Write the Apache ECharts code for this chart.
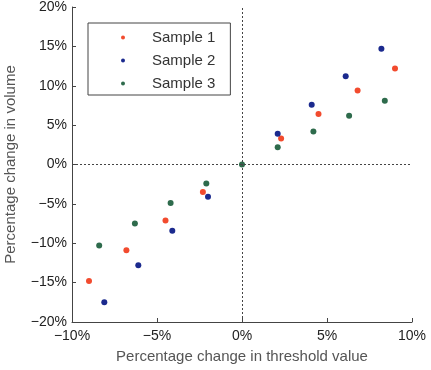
<!DOCTYPE html>
<html>
<head>
<meta charset="utf-8">
<script src="https://cdn.jsdelivr.net/npm/echarts@6/dist/echarts.min.js"></script>
<style>
  html, body { margin: 0; padding: 0; background: #fff; }
  #chart { width: 431px; height: 370px; }
</style>
</head>
<body>
<div id="chart"></div>
<script>
// values, in percent: [threshold change, volume change]
const sample1 = [[-9.0, -14.8], [-6.8, -10.9], [-4.5, -7.1], [-2.3, -3.5], [2.3, 3.3], [4.5, 6.4], [6.8, 9.4], [9.0, 12.2]]
const sample2 = [[-8.1, -17.5], [-6.1, -12.8], [-4.1, -8.4], [-2.0, -4.1], [2.1, 3.9], [4.1, 7.6], [6.1, 11.2], [8.2, 14.7]]
const sample3 = [[-8.4, -10.3], [-6.3, -7.5], [-4.2, -4.9], [-2.1, -2.4], [0, 0], [2.1, 2.2], [4.2, 4.2], [6.3, 6.2], [8.4, 8.1]]
const seriesNames = ['Sample 1', 'Sample 2', 'Sample 3']
const xRange = [-10, 10]
const yRange = [-20, 20]

const colors = ['#f24b2e', '#1b2a8e', '#2e6b4c']
const font = 'Liberation Sans, Arial, Helvetica, sans-serif'

const pct = v => (v < 0 ? '\u2212' + Math.abs(v) : v) + '%'

const chart = echarts.init(document.getElementById('chart'))

const baseAxis = {
  type: 'value',
  nameLocation: 'middle',
  nameTextStyle: { color: '#555', fontSize: 15, fontFamily: font },
  axisLine: { show: true, onZero: false, lineStyle: { color: '#444', width: 1 } },
  axisTick: { show: true, inside: true, length: 4, lineStyle: { color: '#444' } },
  axisLabel: { color: '#222', fontSize: 14, fontFamily: font, formatter: pct },
  splitLine: { show: false }
}

const option = {
  animation: false,
  color: colors,
  grid: { left: 72, right: 19, top: 7, bottom: 48, containLabel: false, outerBoundsMode: 'none' },
  legend: {
    orient: 'vertical',
    left: 88,
    top: 23,
    icon: 'circle',
    itemWidth: 4,
    itemHeight: 4,
    itemGap: 8,
    padding: [7, 15, 4, 33],
    borderColor: '#444',
    borderWidth: 1,
    textStyle: { color: '#333', fontSize: 15, fontFamily: font, padding: [0, 0, 0, 22] },
    data: seriesNames
  },
  xAxis: Object.assign({}, baseAxis, {
    name: 'Percentage change in threshold value',
    nameGap: 27,
    min: xRange[0],
    max: xRange[1],
    interval: 5,
    axisLabel: Object.assign({}, baseAxis.axisLabel, { margin: 7 })
  }),
  yAxis: Object.assign({}, baseAxis, {
    name: 'Percentage change in volume',
    nameGap: 54,
    min: yRange[0],
    max: yRange[1],
    interval: 5,
    axisLabel: Object.assign({}, baseAxis.axisLabel, { margin: 5 })
  }),
  series: [sample1, sample2, sample3].map((d, i) => ({
    name: seriesNames[i],
    type: 'scatter',
    symbolSize: 6,
    itemStyle: { opacity: 1 },
    data: d,
    markLine: i === 0 ? {
      silent: true,
      symbol: 'none',
      label: { show: false },
      lineStyle: { color: '#444', type: [2, 2], width: 1 },
      data: [{ xAxis: 0 }, { yAxis: 0 }]
    } : undefined
  }))
}

chart.setOption(option)
</script>
</body>
</html>
